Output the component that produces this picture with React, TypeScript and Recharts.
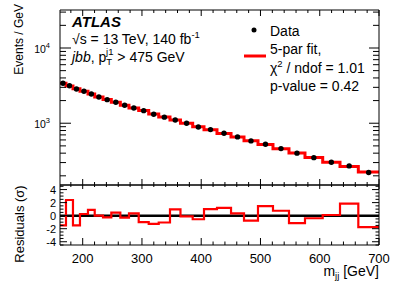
import React from "react";
import { ComposedChart, Line, Scatter, XAxis, YAxis, ReferenceLine } from "recharts";

// m_jj bin edges in GeV (variable width)
const binEdges = [
  161.7, 171.8, 183.6, 195.4, 208.9, 220.3, 234.3, 248.3, 263.5, 278.1, 294.5, 311.4, 328.3, 347.3,
  365.0, 385.6, 404.7, 426.6, 450.3, 472.2, 495.8, 521.1, 548.1, 575.1, 605.0, 634.2, 665.1, 700,
];

// events / GeV per bin
const dataEvents = [
  3398, 3155, 2854, 2661, 2449, 2234, 2057, 1899, 1733, 1596, 1469, 1317, 1205, 1106,
  1000, 893, 823, 736, 658, 582, 526, 460, 400, 349, 303, 271, 221,
];
const fitEvents = [
  3410, 3120, 2868, 2658, 2440, 2234, 2060, 1896, 1735, 1594, 1476, 1325, 1212, 1100,
  1001, 896, 818, 731, 656, 585, 521, 458, 403, 350, 303, 267, 225,
];

// (data - fit) / sigma
const residuals = [
  -1.5, 2.4, -1.5, 0.25, 0.9, 0.0, -0.25, 0.45, -0.3, 0.35, -1.0, -1.25, -1.05, 0.95,
  -0.1, -0.55, 1.0, 1.2, 0.35, -0.75, 1.45, 0.75, -1.15, -0.4, 0.1, 1.85, -1.75,
];

const massTicks = [
  180, 200, 220, 240, 260, 280, 300, 320, 340, 360, 380, 400, 420, 440, 460, 480,
  500, 520, 540, 560, 580, 600, 620, 640, 660, 680, 700,
];
const eventTicks = [
  200, 300, 400, 500, 600, 700, 800, 900, 1000, 2000, 3000, 4000, 5000, 6000, 7000, 8000, 9000,
  10000, 20000, 30000,
];
const residualTicks = [-4.5, -4, -3.5, -3, -2.5, -2, -1.5, -1, -0.5, 0, 0.5, 1, 1.5, 2, 2.5, 3, 3.5, 4, 4.5];

const FONT = '"Liberation Sans", Arial, Helvetica, sans-serif';
const MASS_DOMAIN: [number, number] = [161.7, 700];

const dataPoints = dataEvents.map((y, i) => ({ x: (binEdges[i] + binEdges[i + 1]) / 2, y }));
const fitSteps = binEdges.map((x, i) => ({ x, y: fitEvents[Math.min(i, fitEvents.length - 1)] }));
const residualSteps = binEdges.map((x, i) => ({ x, y: residuals[Math.min(i, residuals.length - 1)] }));

type Side = "top" | "bottom" | "left" | "right";

// inward ROOT-style tick marks, optional label outside
function tickMark(
  side: Side,
  isMajor: (v: number) => boolean,
  majorLen: number,
  minorLen: number,
  label?: (v: number, x: number, y: number) => React.ReactNode
) {
  return (props: any) => {
    const { x, y, payload } = props;
    const v = payload.value as number;
    const len = isMajor(v) ? majorLen : minorLen;
    const d = { top: [0, len], bottom: [0, -len], left: [len, 0], right: [-len, 0] }[side];
    return (
      <g>
        <line x1={x} y1={y} x2={x + d[0]} y2={y + d[1]} stroke="#000" strokeWidth={1} />
        {label && isMajor(v) ? label(v, x, y) : null}
      </g>
    );
  };
}

const hundred = (v: number) => v % 100 === 0;
const decade = (v: number) => v === 1000 || v === 10000;
const evenInt = (v: number) => Number.isInteger(v) && v % 2 === 0;

const axisLine = { stroke: "#000", strokeWidth: 1 };

function MainPanel() {
  return (
    <ComposedChart width={399} height={186} margin={{ top: 0, right: 0, bottom: 0, left: 0 }}>
      <XAxis
        xAxisId="top"
        orientation="top"
        type="number"
        dataKey="x"
        domain={MASS_DOMAIN}
        allowDataOverflow
        ticks={massTicks}
        interval={0}
        height={10}
        tickSize={0}
        tickMargin={0}
        axisLine={axisLine}
        tickLine={false}
        tick={tickMark("top", hundred, 6, 3)}
      />
      <XAxis
        type="number"
        dataKey="x"
        domain={MASS_DOMAIN}
        allowDataOverflow
        ticks={massTicks}
        interval={0}
        height={1}
        tickSize={0}
        tickMargin={0}
        axisLine={axisLine}
        tickLine={false}
        tick={tickMark("bottom", hundred, 6, 3)}
      />
      <YAxis
        type="number"
        scale="log"
        domain={[151, 32000]}
        allowDataOverflow
        ticks={eventTicks}
        interval={0}
        width={60}
        tickSize={0}
        tickMargin={0}
        axisLine={axisLine}
        tickLine={false}
        tick={tickMark("left", decade, 11, 6, (v, x, y) => (
          <text x={x - 10} y={y + 1} textAnchor="end" dominantBaseline="central" fontSize={10.5} fontFamily={FONT} fill="#000">
            10
            <tspan dy={-4.5} fontSize={7.5}>{Math.round(Math.log10(v))}</tspan>
          </text>
        ))}
      />
      <YAxis
        yAxisId="r"
        orientation="right"
        type="number"
        scale="log"
        domain={[151, 32000]}
        allowDataOverflow
        ticks={eventTicks}
        interval={0}
        width={20}
        tickSize={0}
        tickMargin={0}
        axisLine={axisLine}
        tickLine={false}
        tick={tickMark("right", decade, 10, 6)}
      />
      <Line
        data={fitSteps}
        type="stepAfter"
        dataKey="y"
        stroke="#ff0000"
        strokeWidth={3}
        dot={false}
        activeDot={false}
        isAnimationActive={false}
      />
      <Scatter
        data={dataPoints}
        dataKey="y"
        fill="#000"
        isAnimationActive={false}
        shape={(p: any) => <circle cx={p.cx} cy={p.cy} r={2.7} fill="#000" />}
      />
    </ComposedChart>
  );
}

function ResidualPanel() {
  return (
    <ComposedChart width={399} height={102} margin={{ top: 0, right: 0, bottom: 0, left: 0 }}>
      <XAxis
        xAxisId="top"
        orientation="top"
        type="number"
        dataKey="x"
        domain={MASS_DOMAIN}
        allowDataOverflow
        ticks={massTicks}
        interval={0}
        height={1}
        tickSize={0}
        tickMargin={0}
        axisLine={axisLine}
        tickLine={false}
        tick={tickMark("top", hundred, 4, 2)}
      />
      <XAxis
        type="number"
        dataKey="x"
        domain={MASS_DOMAIN}
        allowDataOverflow
        ticks={massTicks}
        interval={0}
        height={41}
        tickSize={0}
        tickMargin={0}
        axisLine={axisLine}
        tickLine={false}
        tick={tickMark("bottom", hundred, 7, 3.5, (v, x, y) => (
          <text x={x} y={y + 13} textAnchor="middle" dominantBaseline="central" fontSize={13} fontFamily={FONT} fill="#000">
            {v}
          </text>
        ))}
      />
      <YAxis
        type="number"
        domain={[-4.5, 4.7]}
        allowDataOverflow
        ticks={residualTicks}
        interval={0}
        width={60}
        tickSize={0}
        tickMargin={0}
        axisLine={axisLine}
        tickLine={false}
        tick={tickMark("left", evenInt, 7, 3.5, (v, x, y) => (
          <text x={x - 4} y={y} textAnchor="end" dominantBaseline="central" fontSize={11} fontFamily={FONT} fill="#000">
            {v}
          </text>
        ))}
      />
      <YAxis
        yAxisId="r"
        orientation="right"
        type="number"
        domain={[-4.5, 4.7]}
        allowDataOverflow
        ticks={residualTicks}
        interval={0}
        width={20}
        tickSize={0}
        tickMargin={0}
        axisLine={axisLine}
        tickLine={false}
        tick={tickMark("right", evenInt, 7, 3.5)}
      />
      <ReferenceLine y={0} stroke="#000" strokeWidth={2.5} />
      <Line
        data={residualSteps}
        type="stepAfter"
        dataKey="y"
        stroke="#ff0000"
        strokeWidth={2.2}
        dot={false}
        activeDot={false}
        isAnimationActive={false}
      />
    </ComposedChart>
  );
}

function Annotations() {
  const t = { fontFamily: FONT, fill: "#000" };
  return (
    <svg width={399} height={286} style={{ position: "absolute", left: 0, top: 0, pointerEvents: "none" }}>
      <text {...t} x={72} y={21} fontSize={15} fontWeight="bold" fontStyle="italic" dominantBaseline="central">
        ATLAS
      </text>
      <text {...t} x={72} y={39} fontSize={14} dominantBaseline="central">
        √s = 13 TeV, 140 fb<tspan dy={-5} fontSize={9.5}>-1</tspan>
      </text>
      <text {...t} x={72} y={57} fontSize={14} dominantBaseline="central">
        <tspan fontStyle="italic">jbb</tspan>, p
        <tspan dy={4} fontSize={9.5}>T</tspan>
        <tspan dx={-6} dy={-10} fontSize={9.5}>j1</tspan>
        <tspan dy={6}> &gt; 475 GeV</tspan>
      </text>

      <circle cx={254} cy={30} r={2.5} fill="#000" />
      <text {...t} x={270} y={31} fontSize={14} dominantBaseline="central">Data</text>
      <line x1={244} y1={56} x2={266} y2={56} stroke="#ff0000" strokeWidth={3} />
      <text {...t} x={270} y={49} fontSize={14} dominantBaseline="central">5-par fit,</text>
      <text {...t} x={270} y={68} fontSize={14} dominantBaseline="central">
        χ<tspan dy={-5} fontSize={9.5}>2</tspan>
        <tspan dy={5}> / ndof = 1.01</tspan>
      </text>
      <text {...t} x={270} y={86} fontSize={14} dominantBaseline="central">p-value = 0.42</text>

      <text {...t} x={19} y={4} fontSize={12} textAnchor="end" dominantBaseline="central" transform="rotate(-90 19 4)">
        Events / GeV
      </text>
      <text {...t} x={19} y={224} fontSize={13} textAnchor="middle" dominantBaseline="central" transform="rotate(-90 19 224)">
        Residuals (σ)
      </text>
      <text {...t} x={379} y={271} fontSize={14} textAnchor="end" dominantBaseline="central">
        m<tspan dy={4} fontSize={9.5}>jj</tspan>
        <tspan dy={-4}> [GeV]</tspan>
      </text>
    </svg>
  );
}

export default function App() {
  return (
    <div style={{ position: "absolute", left: 0, top: 0, width: 399, height: 286, background: "#fff" }}>
      <div style={{ position: "absolute", left: 0, top: 0 }}>
        <MainPanel />
      </div>
      <div style={{ position: "absolute", left: 0, top: 184 }}>
        <ResidualPanel />
      </div>
      <Annotations />
    </div>
  );
}
